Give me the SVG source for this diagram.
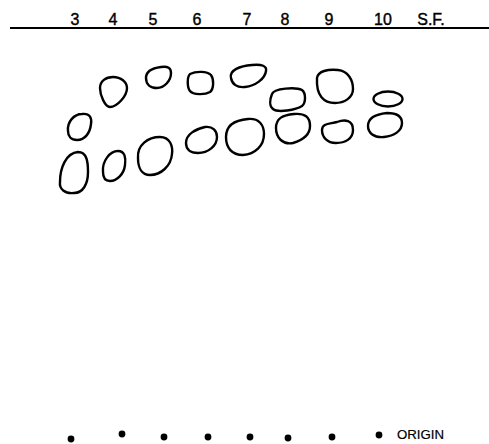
<svg xmlns="http://www.w3.org/2000/svg" width="489" height="444" viewBox="0 0 489 444">
<style>
.lbl{font-family:"Liberation Sans",Arial,sans-serif;font-size:16px;fill:#000;text-anchor:middle;stroke:#000;stroke-width:0.4}
.spot{fill:none;stroke:#000;stroke-width:2.4;stroke-linejoin:round}
.dot{fill:#000}
.org{font-family:"Liberation Sans",Arial,sans-serif;font-size:13px;fill:#000;stroke:#000;stroke-width:0.2}
</style>
<rect width="489" height="444" fill="#fff"/>
<g id="header">
<line x1="10" y1="28" x2="489" y2="28" stroke="#000" stroke-width="2"/>
<text class="lbl" x="75" y="25">3</text>
<text class="lbl" x="113" y="25">4</text>
<text class="lbl" x="153" y="25">5</text>
<text class="lbl" x="197" y="25">6</text>
<text class="lbl" x="247" y="25">7</text>
<text class="lbl" x="285" y="25">8</text>
<text class="lbl" x="329" y="25">9</text>
<text class="lbl" x="383" y="25">10</text>
<text class="lbl" x="431" y="25">S.F.</text>
</g>
<g id="lane3">
<path class="spot" d="M68,131 C67,122 74,114 82,114 C90,113 92,118 91,124 C90,133 85,140 77,140 C71,140 68,136 68,131 Z"/>
<path class="spot" d="M60,182 C60,168 66,153 78,152 C87,152 88,162 88,172 C88,184 83,193 74,193 C65,194 59,189 60,182 Z"/>
<circle class="dot" cx="71" cy="439" r="3.4"/>
</g>
<g id="lane4">
<path class="spot" d="M113,77 C121,77 127,82 127,88 C127,96 117,107 110,107 C105,107 100,95 100,88 C100,81 106,77 113,77 Z"/>
<path class="spot" d="M103,172 C102,161 110,151 118,151 C125,151 126,158 125,165 C124,174 117,181 110,181 C105,181 103,177 103,172 Z"/>
<circle class="dot" cx="122" cy="434" r="3.4"/>
</g>
<g id="lane5">
<path class="spot" d="M146,78 C146,71 153,68 161,67 C168,66 171,68 171,73 C171,81 164,88 157,88 C150,88 146,84 146,78 Z"/>
<path class="spot" d="M138,158 C137,145 148,137 160,137 C170,137 173,146 172,154 C171,166 161,175 150,175 C142,175 138,168 138,158 Z"/>
<circle class="dot" cx="164" cy="437" r="3.4"/>
</g>
<g id="lane6">
<path class="spot" d="M190,74 C196,71 207,71 211,75 C214,79 214,89 210,92 C205,95 193,95 190,91 C187,87 187,77 190,74 Z"/>
<path class="spot" d="M186,143 C186,134 196,129 205,127 C213,126 217,131 217,137 C217,146 208,153 198,153 C190,153 186,149 186,143 Z"/>
<circle class="dot" cx="208" cy="437" r="3.4"/>
</g>
<g id="lane7">
<path class="spot" d="M231,78 C229,70 240,66 252,65 C262,64 267,66 266,71 C265,79 255,86 245,87 C237,88 232,84 231,78 Z"/>
<path class="spot" d="M226,137 C226,125 236,120 248,119 C259,118 264,125 264,134 C264,146 255,154 243,155 C232,155 226,148 226,137 Z"/>
<circle class="dot" cx="250" cy="437" r="3.4"/>
</g>
<g id="lane8">
<path class="spot" d="M272,94 C274,88 296,87 302,90 C306,93 306,103 302,106 C296,110 278,113 273,109 C269,106 270,99 272,94 Z"/>
<path class="spot" d="M276,128 C276,118 283,115 294,114 C305,113 310,117 310,126 C310,135 303,140 293,143 C283,145 276,138 276,128 Z"/>
<circle class="dot" cx="288" cy="438" r="3.4"/>
</g>
<g id="lane9">
<path class="spot" d="M317,78 C318,71 328,69 338,70 C348,71 353,80 353,89 C353,98 344,103 335,103 C324,103 316,96 317,78 Z"/>
<path class="spot" d="M322,130 C322,123 330,124 337,122 C345,119 353,120 353,130 C353,139 345,143 336,143 C327,143 322,137 322,130 Z"/>
<circle class="dot" cx="332" cy="437" r="3.4"/>
</g>
<g id="lane10">
<ellipse class="spot" cx="388" cy="99" rx="14.5" ry="7.5"/>
<path class="spot" d="M368,126 C368,117 377,114 387,113 C397,113 402,116 402,123 C402,131 394,136 384,137 C374,138 368,133 368,126 Z"/>
<circle class="dot" cx="379" cy="435" r="3.4"/>
</g>
<g id="origin">
<text class="org" x="397" y="439" textLength="47" lengthAdjust="spacingAndGlyphs">ORIGIN</text>
</g>
</svg>
